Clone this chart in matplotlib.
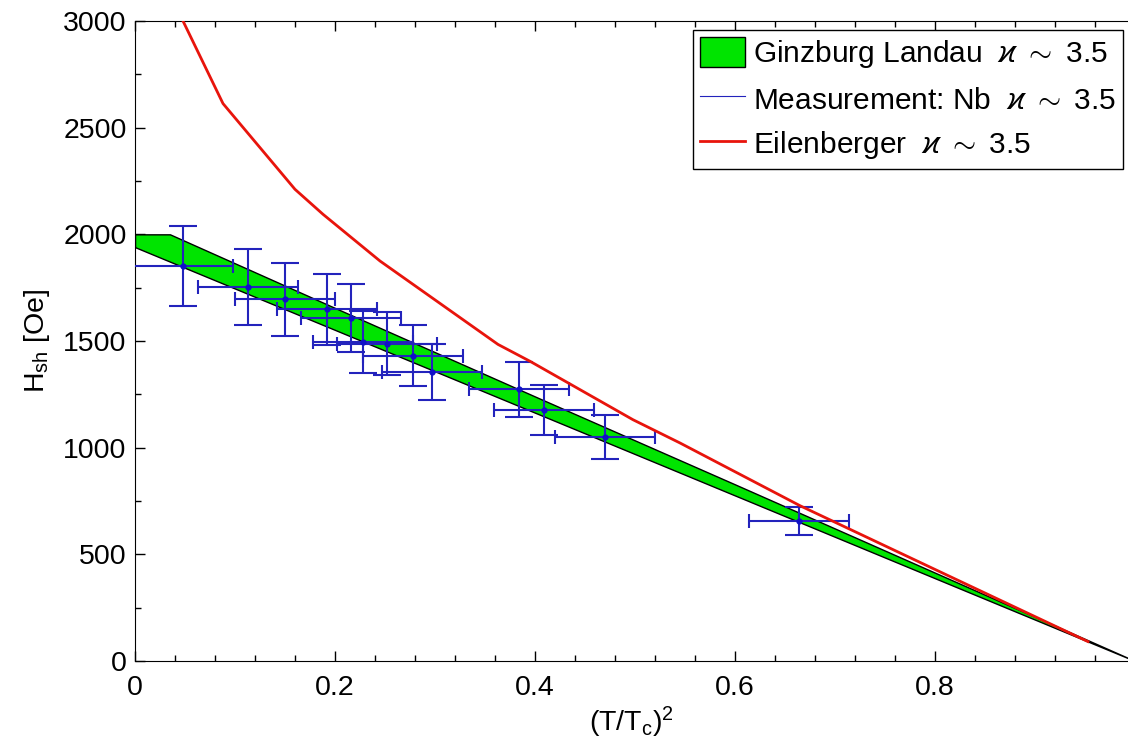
import numpy as np
import matplotlib.pyplot as plt
from matplotlib.ticker import MultipleLocator

plt.rcParams['font.family'] = ['Liberation Sans', 'DejaVu Sans']
plt.rcParams['mathtext.fontset'] = 'custom'
plt.rcParams['mathtext.rm'] = 'Liberation Sans'
plt.rcParams['mathtext.it'] = 'Liberation Sans:italic'
plt.rcParams['mathtext.fallback'] = 'cm'

# Ginzburg-Landau band (upper / lower bound), x = (T/Tc)^2
gl_t = [0.0, 0.035, 0.20, 0.40, 0.60, 0.80, 1.0]
gl_upper = [2000, 2000, 1655, 1240, 828, 414, 0]
gl_lower = [1940, 1872, 1552, 1164, 776, 388, 0]

# Eilenberger curve
eil_t = [0.035, 0.048, 0.088, 0.16, 0.188, 0.245, 0.363, 0.395, 0.498, 0.545, 0.665, 0.815, 0.953]
eil_h = [3130, 3000, 2613, 2211, 2094, 1875, 1484, 1405, 1131, 1022, 728, 396, 91]

# Nb measurements
nb_t = [0.048, 0.113, 0.150, 0.192, 0.216, 0.228, 0.252, 0.278, 0.297, 0.384, 0.409, 0.470, 0.664]
nb_h = [1851, 1753, 1695, 1648, 1606, 1494, 1488, 1432, 1355, 1274, 1175, 1048, 656]
nb_herr = [188, 176, 170, 166, 159, 145, 148, 143, 133, 129, 117, 103, 67]
nb_terr = [0.05] * len(nb_t)

kappa = r'$\varkappa\ \sim\ 3.5$'

fig = plt.figure(figsize=(11.28, 7.51), dpi=100)
ax = fig.add_axes([135 / 1128, 90 / 751, 1 - 135 / 1128, (661 - 21) / 751])

band = ax.fill_between(gl_t, gl_lower, gl_upper, facecolor='#00e400',
                       edgecolor='black', linewidth=1.0, zorder=2)

blue = '#2323bc'
ax.errorbar(nb_t, nb_h, yerr=nb_herr, fmt='none', ecolor=blue,
            elinewidth=1.5, capsize=10, capthick=1.5, zorder=3)
ax.errorbar(nb_t, nb_h, xerr=nb_terr, fmt='none', ecolor=blue,
            elinewidth=1.5, capsize=5, capthick=1.5, zorder=3)
ax.plot(nb_t, nb_h, 'o', color='#1010c8', markersize=3.5, zorder=4)
nb_line, = ax.plot([], [], color=blue, linewidth=0.8)

eil_line, = ax.plot(eil_t, eil_h, color='#e8140c', linewidth=2.0, zorder=5)

ax.set_xlim(0, 0.993)
ax.set_ylim(0, 3000)
ax.xaxis.set_major_locator(MultipleLocator(0.2))
ax.xaxis.set_minor_locator(MultipleLocator(0.04))
ax.yaxis.set_major_locator(MultipleLocator(500))
ax.yaxis.set_minor_locator(MultipleLocator(250))
ax.set_xticks([0, 0.2, 0.4, 0.6, 0.8])
ax.set_xticklabels(['0', '0.2', '0.4', '0.6', '0.8'])
ax.tick_params(which='both', direction='in', top=True, right=False, labelsize=20.5)
ax.tick_params(which='major', length=7, width=1)
ax.tick_params(which='minor', length=4, width=1)
ax.tick_params(axis='x', pad=10)
ax.tick_params(axis='y', pad=6)
ax.spines['right'].set_visible(False)

ax.set_xlabel(r'(T/T$_{\rm c}$)$^2$', fontsize=20.5, labelpad=3)
ax.set_ylabel(r'H$_{\rm sh}$ [Oe]', fontsize=20.5, labelpad=8)

leg = fig.legend([band, nb_line, eil_line],
                 ['Ginzburg Landau  ' + kappa,
                  'Measurement: Nb  ' + kappa,
                  'Eilenberger  ' + kappa],
                 loc='upper left', bbox_to_anchor=(693 / 1128, 1 - 30 / 751),
                 bbox_transform=fig.transFigure, borderaxespad=0,
                 fontsize=21.5, fancybox=False, framealpha=1, edgecolor='black',
                 handlelength=1.5, handleheight=1.15, handletextpad=0.25,
                 labelspacing=0.45, borderpad=0.25)
leg.get_frame().set_linewidth(1.0)

fig.savefig('out.png', dpi=100)
